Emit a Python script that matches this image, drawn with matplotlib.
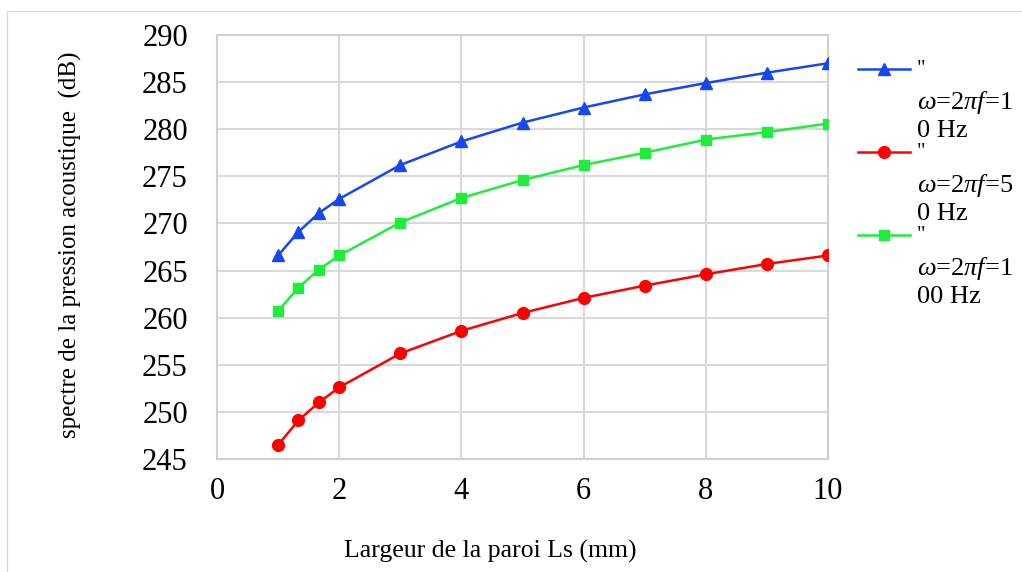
from matplotlib import pyplot as plt
from matplotlib.lines import Line2D
from matplotlib.patches import Rectangle

plt.rcParams['font.family'] = ['Liberation Serif', 'DejaVu Serif']
plt.rcParams['mathtext.fontset'] = 'custom'
plt.rcParams['mathtext.rm'] = 'Liberation Serif'
plt.rcParams['mathtext.it'] = 'Liberation Serif:italic'

# largeur de la paroi Ls (mm)
ls = [1, 1.333, 1.667, 2, 3, 4, 5, 6, 7, 8, 9, 10]

# spectre de la pression acoustique (dB)
spl_10hz = [266.6, 269.1, 271.1, 272.6, 276.2, 278.7, 280.7, 282.3, 283.7, 284.9, 286.0, 287.0]
spl_50hz = [246.5, 249.1, 251.0, 252.6, 256.2, 258.6, 260.5, 262.1, 263.4, 264.6, 265.7, 266.6]
spl_100hz = [260.7, 263.2, 265.1, 266.6, 270.1, 272.7, 274.6, 276.2, 277.5, 278.9, 279.7, 280.6]

labels = [('$\\omega$=2$\\pi f$=1', '0 Hz'),
          ('$\\omega$=2$\\pi f$=5', '0 Hz'),
          ('$\\omega$=2$\\pi f$=1', '00 Hz')]
series = [spl_10hz, spl_50hz, spl_100hz]
colors = ['#1747EE', '#FF0000', '#1EEE3A']
markers = ['^', 'o', 's']
msizes = [8, 8.5, 7.5]

W, H = 1022, 572
fig = plt.figure(figsize=(W / 100, H / 100), dpi=100)
ax = fig.add_axes([217 / W, 1 - 459 / H, (828 - 217) / W, (459 - 35) / H])

for y, c, m, ms in zip(series, colors, markers, msizes):
    ax.plot(ls, y, color=c, marker=m, markersize=ms, linewidth=1.8, zorder=3)

ax.set_xlim(0, 10)
ax.set_ylim(245, 290)
ax.set_xticks(range(0, 11, 2))
ax.set_yticks(range(245, 291, 5))
ax.grid(True, color='#d9d9d9', linewidth=1.5)
ax.set_axisbelow(True)
for s in ax.spines.values():
    s.set_color('#d0d0d0')
    s.set_linewidth(1.5)
ax.tick_params(length=0, labelsize=22)
ax.tick_params(axis='x', pad=13)
ax.tick_params(axis='y', pad=21)

fig.text(490 / W, 1 - 551 / H, 'Largeur de la paroi Ls (mm)', fontsize=18.5,
         ha='center', va='center')
fig.text(70 / W, 1 - 245 / H, 'spectre de la pression acoustique  (dB)', fontsize=18,
         ha='center', va='center', rotation=90)

# legende faite a la main
for i, (c, m, ms) in enumerate(zip(colors, markers, msizes)):
    yl = 1 - (69 + 83 * i) / H
    fig.add_artist(Line2D([858 / W, 910 / W], [yl, yl], color=c, linewidth=1.8,
                          transform=fig.transFigure))
    fig.add_artist(Line2D([884 / W], [yl], color=c, marker=m, markersize=ms,
                          transform=fig.transFigure))
    fig.text(917 / W, 1 - (74 + 83 * i) / H, '"', fontsize=15, ha='left', va='baseline')
    fig.text(917 / W, 1 - (109 + 83 * i) / H, labels[i][0], fontsize=19,
             ha='left', va='baseline')
    fig.text(917 / W, 1 - (137 + 83 * i) / H, labels[i][1], fontsize=19,
             ha='left', va='baseline')

fig.add_artist(Rectangle((7 / W, -0.1), 1.2, 1.1 - 11 / H, transform=fig.transFigure,
                         fill=False, edgecolor='#d9d9d9', linewidth=1))

fig.savefig('out.png', dpi=100)
